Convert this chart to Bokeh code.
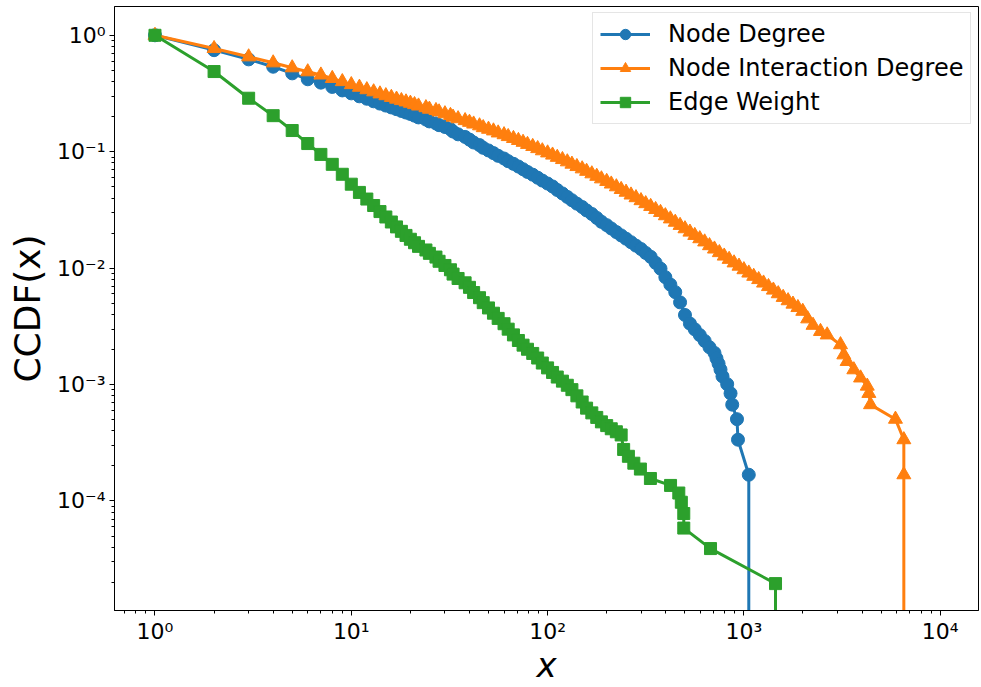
import numpy as np
from bokeh.plotting import figure
from bokeh.models import (FixedTicker, CustomJSTickFormatter, Range1d, Legend,
                          LegendItem, ColumnDataSource)
from bokeh.embed import file_html
from bokeh.resources import INLINE

# ---------------- data ----------------
node_degree_x = [1, 2, 3, 4, 5, 6, 7, 8, 9, 10, 11, 12, 13, 14, 15, 16, 17, 18, 19, 20,
                 21, 22, 24, 25, 27, 28, 30, 32, 33, 35, 38, 40, 42, 45, 47, 50, 53, 56, 60, 63,
                 67, 71, 75, 79, 84, 89, 94, 100, 106, 112, 119, 126, 133, 141, 150, 158, 168, 178, 188, 200,
                 211, 224, 237, 251, 266, 282, 299, 316, 335, 355, 376, 398, 422, 447, 473, 501, 531, 562, 596, 631,
                 668, 708, 725, 743, 760, 778, 822, 855, 872, 922, 933, 1059, 1059]
node_degree_y = [1.0, 0.745, 0.621, 0.537, 0.471, 0.419, 0.392, 0.360, 0.336, 0.317, 0.299, 0.285, 0.271, 0.259,
                 0.249, 0.240, 0.232, 0.224, 0.217, 0.211,
                 0.204, 0.197, 0.189, 0.182, 0.175, 0.169, 0.163, 0.156, 0.149, 0.141,
                 0.134, 0.127, 0.120, 0.114, 0.108, 0.1025, 0.0973, 0.0922, 0.0874, 0.0829,
                 0.0787, 0.0746, 0.0707, 0.0670, 0.0635, 0.0598, 0.0565, 0.0533, 0.0503, 0.0469,
                 0.0438, 0.0409, 0.0383, 0.0358, 0.0335, 0.0313, 0.0292, 0.0270, 0.0250, 0.0234,
                 0.0219, 0.0204, 0.0191, 0.0179, 0.0167, 0.0156, 0.0146, 0.0135, 0.0125, 0.0111,
                 0.0099, 0.00836, 0.00722, 0.00622, 0.00508, 0.00396, 0.00334, 0.00298, 0.00266, 0.00237,
                 0.00209, 0.00187, 0.00168, 0.00151, 0.001345, 0.001176, 0.001008, 0.00084, 0.000672,
                 0.000504, 0.000336, 0.000168, 0.0]

interaction_x = [1, 2, 3, 4, 5, 6, 7, 8, 9, 10, 11, 12, 13, 14, 15, 16, 17, 18, 19, 20,
                 21, 22, 24, 25, 27, 28, 30, 32, 33, 35, 38, 40, 42, 45, 47, 50, 53, 56, 60, 63,
                 67, 71, 75, 79, 84, 89, 94, 100, 106, 112, 119, 126, 133, 141, 150, 158, 168, 178, 188, 200,
                 211, 224, 237, 251, 266, 282, 299, 316, 335, 355, 376, 398, 422, 447, 473, 501, 531, 562, 596, 631,
                 668, 708, 750, 794, 841, 891, 944, 1000, 1059, 1122, 1189, 1259, 1334, 1413, 1496, 1585, 1679,
                 1778, 1884, 1995, 2113, 2250, 2455, 2656, 3105, 3228, 3357, 3631, 3929, 4250, 4330, 4416,
                 5916, 6527, 6527, 6527]
interaction_y = [1.0, 0.770, 0.653, 0.580, 0.526, 0.486, 0.456, 0.426, 0.400, 0.377, 0.358, 0.341, 0.327, 0.314,
                 0.303, 0.293, 0.283, 0.275, 0.268, 0.261,
                 0.254, 0.247, 0.239, 0.232, 0.226, 0.220, 0.212, 0.205, 0.198, 0.192,
                 0.185, 0.179, 0.173, 0.167, 0.161, 0.156, 0.151, 0.145, 0.140, 0.135,
                 0.130, 0.125, 0.1205, 0.1156, 0.111, 0.1064, 0.1019, 0.0977, 0.0936, 0.0895,
                 0.0857, 0.0819, 0.0782, 0.0746, 0.0713, 0.0679, 0.0646, 0.0615, 0.0585, 0.0556,
                 0.0528, 0.0500, 0.0474, 0.0449, 0.0425, 0.0403, 0.0380, 0.0358, 0.0339, 0.0319,
                 0.0301, 0.0282, 0.0265, 0.0248, 0.0233, 0.0218, 0.0204, 0.0191, 0.0179, 0.0168,
                 0.0156, 0.0146, 0.0136, 0.0127, 0.0119, 0.0111, 0.0104, 0.0097, 0.00908, 0.00851,
                 0.00798, 0.00745, 0.00695, 0.00648, 0.00603, 0.00561, 0.00525, 0.00491, 0.00459, 0.00426,
                 0.00367, 0.00323, 0.00286, 0.00267, 0.0022, 0.0018, 0.00158, 0.00134, 0.00114, 0.00097,
                 0.00084, 0.000672, 0.000504, 0.000336, 0.000168, 0.0]

edge_weight_x = [1, 2, 3, 4, 5, 6, 7, 8, 9, 10, 11, 12, 13, 14, 15, 16, 17, 18, 19, 20,
                 21, 22, 24, 25, 27, 28, 30, 32, 33, 35, 38, 40, 42, 45, 47, 50, 53, 56, 60, 63,
                 67, 71, 75, 79, 84, 89, 94, 100, 106, 112, 119, 126, 133, 141, 150, 158, 168, 178, 188, 200,
                 211, 224, 237, 244, 258, 275, 297, 334, 423, 466, 480, 494, 494, 676, 1449, 1449]
edge_weight_y = [1.0, 0.488, 0.288, 0.204, 0.152, 0.1175, 0.0948, 0.0779, 0.0640, 0.0526, 0.0447, 0.0392,
                 0.0345, 0.0306, 0.0275, 0.0249, 0.0226, 0.0207, 0.0191, 0.0177,
                 0.01652, 0.01538, 0.01432, 0.01340, 0.01245, 0.01145, 0.01054, 0.00968, 0.00889, 0.00815,
                 0.00748, 0.00684, 0.00617, 0.00557, 0.00505, 0.00455, 0.00410, 0.00370, 0.00333, 0.00299,
                 0.00267, 0.00239, 0.00218, 0.00201, 0.00185, 0.00169, 0.00153, 0.00139, 0.00127, 0.00116,
                 0.00107, 0.000986, 0.000904, 0.000800, 0.000708, 0.000627, 0.000571, 0.000522, 0.000478,
                 0.000444, 0.000417, 0.000393, 0.000369, 0.000277, 0.000242, 0.000211, 0.000188, 0.000156,
                 0.000136, 0.000117, 0.0000975, 0.000078, 0.0000585, 0.000039, 0.0000195, 0.0]

series_names = ["Node Degree", "Node Interaction Degree", "Edge Weight"]

x_tick_exps = [0, 1, 2, 3, 4]
x_tick_labels = ["10⁰", "10¹", "10²", "10³", "10⁴"]
y_tick_exps = [-4, -3, -2, -1, 0]
y_tick_labels = ["10⁻⁴", "10⁻³", "10⁻²", "10⁻¹", "10⁰"]

x_label_text = "x"
y_label_text = "CCDF(x)"

# ---------------- figure ----------------
FONT = "DejaVu Sans"
p = figure(width=981, height=687, x_axis_type="log", y_axis_type="log",
           x_range=Range1d(0.622, 15670), y_range=Range1d(1.146e-5, 1.767),
           output_backend="svg", toolbar_location=None,
           min_border_left=114, min_border_right=3, min_border_top=6, min_border_bottom=73)

p.xgrid.visible = False
p.ygrid.visible = False
p.outline_line_color = "black"
p.outline_line_width = 1
p.background_fill_color = "white"
p.border_fill_color = "white"

colors = ["#1f77b4", "#ff7f0e", "#2ca02c"]
markers = ["circle", "triangle", "square"]
sizes = [13, 14, 12]
datasets = [(node_degree_x, node_degree_y), (interaction_x, interaction_y), (edge_weight_x, edge_weight_y)]

items = []
for name, (xs, ys), c, mk, sz in zip(series_names, datasets, colors, markers, sizes):
    xs = np.asarray(xs, dtype=float)
    ys = np.asarray(ys, dtype=float)
    # zero CCDF values drop off the bottom of a log axis
    line_src = ColumnDataSource(dict(x=xs, y=np.where(ys > 0, ys, 1e-12)))
    pos = ys > 0
    pt_src = ColumnDataSource(dict(x=xs[pos], y=ys[pos]))
    lr = p.line("x", "y", source=line_src, line_color=c, line_width=3)
    sr = p.scatter("x", "y", source=pt_src, marker=mk, size=sz, fill_color=c, line_color=c)
    items.append(LegendItem(label=name, renderers=[lr, sr]))

legend = Legend(items=items, location=(478, 486),
                label_text_font=FONT, label_text_font_size="24px", label_text_color="black",
                glyph_width=50, glyph_height=26, label_height=26, label_standoff=18,
                spacing=6, padding=7,
                border_line_color="#cccccc", border_line_width=1,
                background_fill_color="white", background_fill_alpha=0.8)
p.add_layout(legend)

fmt_code = """
const e = Math.round(Math.log10(tick));
const i = exps.indexOf(e);
return i >= 0 ? labels[i] : "";
"""
x_major = [10.0 ** e for e in x_tick_exps]
x_minor = [m * 10.0 ** e for e in range(-1, 5) for m in range(2, 10)]
y_major = [10.0 ** e for e in y_tick_exps]
y_minor = [m * 10.0 ** e for e in range(-6, 1) for m in range(2, 10)]

p.xaxis.ticker = FixedTicker(ticks=x_major, minor_ticks=x_minor)
p.yaxis.ticker = FixedTicker(ticks=y_major, minor_ticks=y_minor)
p.xaxis.formatter = CustomJSTickFormatter(args=dict(exps=x_tick_exps, labels=x_tick_labels), code=fmt_code)
p.yaxis.formatter = CustomJSTickFormatter(args=dict(exps=y_tick_exps, labels=y_tick_labels), code=fmt_code)

for ax in (p.xaxis[0], p.yaxis[0]):
    ax.axis_line_color = "black"
    ax.major_tick_line_color = "black"
    ax.minor_tick_line_color = "black"
    ax.major_tick_in = 0
    ax.major_tick_out = 5
    ax.minor_tick_in = 0
    ax.minor_tick_out = 3
    ax.major_label_text_font = FONT
    ax.major_label_text_font_size = "22px"
    ax.major_label_text_color = "black"
    ax.axis_label_text_font = FONT
    ax.axis_label_text_color = "black"

p.yaxis.major_label_standoff = 4
p.yaxis.axis_label = y_label_text
p.yaxis.axis_label_text_font_size = "36px"
p.yaxis.axis_label_text_font_style = "normal"
p.yaxis.axis_label_standoff = 6

p.xaxis.major_label_standoff = 3
p.xaxis.axis_label = x_label_text
p.xaxis.axis_label_text_font_size = "34px"
p.xaxis.axis_label_text_font_style = "italic"
p.xaxis.axis_label_standoff = -2

open("out.html", "w").write(file_html(p, INLINE))
